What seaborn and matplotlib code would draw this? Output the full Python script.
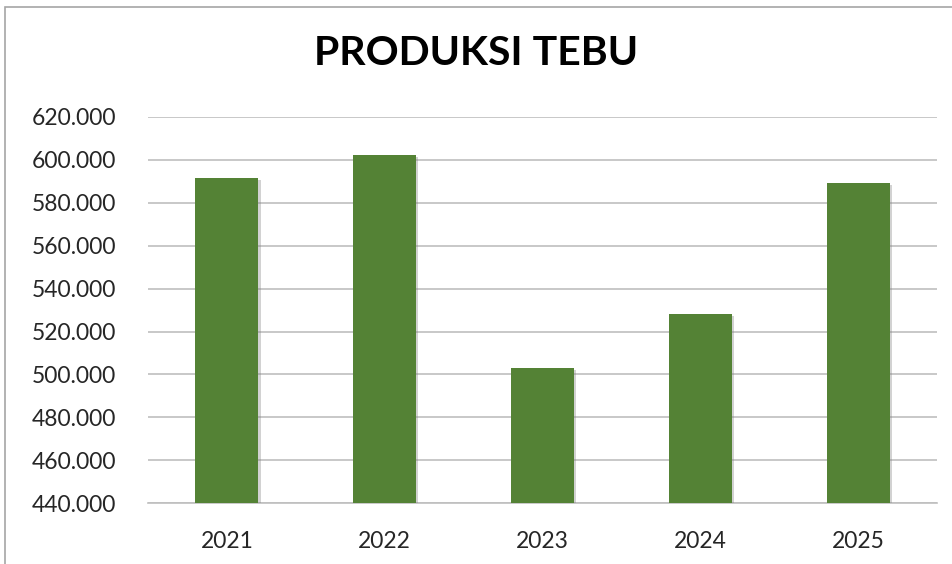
import matplotlib
matplotlib.use("Agg")
import matplotlib.pyplot as plt
import matplotlib.patheffects as pe
from matplotlib.patches import Rectangle
from matplotlib.ticker import FuncFormatter, MultipleLocator
import seaborn as sns
import pandas as pd

# data
years = ["2021", "2022", "2023", "2024", "2025"]
produksi = [591400, 602100, 503000, 528100, 589000]

sns.set_theme(style="white")
plt.rcParams["font.family"] = ["Lato", "DejaVu Sans"]

df = pd.DataFrame({"tahun": years, "produksi": produksi})

fig = plt.figure(figsize=(9.53, 5.64), dpi=100)
ax = fig.add_axes([0.1553, 0.1073, 0.8279, 0.6861])

sns.barplot(data=df, x="tahun", y="produksi", color="#548235", width=0.4,
            saturation=1, linewidth=0, ax=ax, zorder=3)
for bar in ax.patches:
    bar.set_path_effects([pe.SimplePatchShadow(offset=(1.5, -1.5), shadow_rgbFace="#7f7f7f", alpha=0.35),
                          pe.Normal()])

ax.set_ylim(440000, 620000)
ax.yaxis.set_major_locator(MultipleLocator(20000))
ax.yaxis.set_major_formatter(FuncFormatter(lambda v, p: f"{v/1000:.3f}"))
ax.grid(axis="y", color="#bfbfbf", linewidth=1.2, zorder=0)
ax.set_axisbelow(True)

for side in ["left", "right", "top"]:
    ax.spines[side].set_visible(False)
ax.spines["bottom"].set_color("#bfbfbf")
ax.spines["bottom"].set_linewidth(1.2)

ax.tick_params(axis="both", length=0, labelsize=16.5, colors="#262626")
ax.tick_params(axis="y", pad=23)
ax.tick_params(axis="x", pad=20)
ax.set_xlabel("")
ax.set_ylabel("")

fig.text(0.5, 0.905, "PRODUKSI TEBU", ha="center", va="center",
         fontsize=29.5, fontweight="bold", color="black")

# outer chart frame
fig.patches.append(Rectangle((4.5 / 953, -0.05), 1.1, 1 - 7 / 564 + 0.05,
                             transform=fig.transFigure, fill=False,
                             edgecolor="#a6a6a6", linewidth=1.2))

fig.savefig("out.png", dpi=100)
